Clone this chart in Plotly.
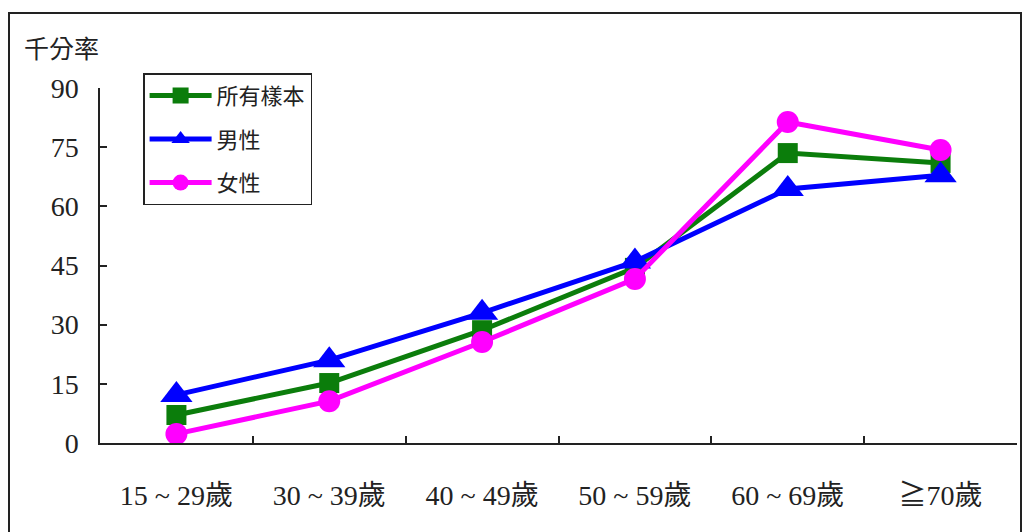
import plotly.graph_objects as go

# Age groups and rates per thousand
age_groups = ["15 ~ 29歲", "30 ~ 39歲", "40 ~ 49歲", "50 ~ 59歲", "60 ~ 69歲", "≧70歲"]
all_samples = [7.1, 15.2, 28.6, 44.4, 73.5, 71.0]
male = [12.2, 21.0, 33.0, 46.0, 64.4, 67.9]
female = [2.3, 10.6, 25.6, 41.6, 81.4, 74.3]
y_ticks = [0, 15, 30, 45, 60, 75, 90]

SERIF = "'Liberation Serif', 'Times New Roman', 'Noto Sans CJK TC', serif"
CJK = "'Noto Sans CJK TC', sans-serif"

series = [
    ("所有樣本", all_samples, "#0b7d0b", "square", 20),
    ("男性", male, "#0000ff", "triangle-up", 28),
    ("女性", female, "#ff00ff", "circle", 22),
]

fig = go.Figure()
for i, (name, vals, color, sym, size) in enumerate(series):
    fig.add_trace(go.Scatter(
        x=age_groups, y=vals, name=name, mode="lines+markers",
        line=dict(color=color, width=5),
        marker=dict(symbol=sym, size=size, color=color),
        legendgroup=f"g{i}",
    ))

W, H = 1022, 532
L, R, T, B = 100, 5, 88, 89

fig.update_layout(
    width=W, height=H,
    margin=dict(l=L, r=R, t=T, b=B, pad=0),
    paper_bgcolor="white", plot_bgcolor="white",
    showlegend=True,
    legend=dict(
        x=0.047, y=1.042, xanchor="left", yanchor="top",
        bordercolor="#222222", borderwidth=1.5, bgcolor="white",
        font=dict(family=CJK, size=22, color="#222222"),
        itemwidth=62, tracegroupgap=12, traceorder="grouped",
        itemsizing="trace",
    ),
    xaxis=dict(
        type="category", range=[-0.5, 5.5],
        showline=True, linecolor="#222222", linewidth=1.5,
        ticks="inside", tickson="boundaries", ticklen=7, tickcolor="#222222",
        tickwidth=1.5, showgrid=False, zeroline=False,
        tickfont=dict(family=SERIF, size=28, color="#222222"),
        ticklabelstandoff=27,
    ),
    yaxis=dict(
        range=[0, 90], tickvals=y_ticks,
        showline=True, linecolor="#222222", linewidth=1.5,
        ticks="inside", ticklen=7, tickcolor="#222222", tickwidth=1.5,
        showgrid=False, zeroline=False,
        tickfont=dict(family=SERIF, size=28, color="#222222"),
        ticklabelstandoff=14,
    ),
    font=dict(family=SERIF, color="#222222"),
)

# Outer frame around the whole chart
pw = W - L - R
ph = H - T - B
fig.add_shape(
    type="rect", xref="paper", yref="paper",
    x0=(9 - L) / pw, x1=(1021 - L) / pw,
    y0=(H - B - 560) / ph, y1=(H - B - 13) / ph,
    line=dict(color="#222222", width=2), fillcolor="rgba(0,0,0,0)", layer="below",
)

# Unit label
fig.add_annotation(
    text="千分率", xref="paper", yref="paper",
    x=(22 - L) / pw, y=(H - B - 47) / ph, xanchor="left", yanchor="middle",
    showarrow=False, font=dict(family=CJK, size=25, color="#222222"),
)

fig.write_html("out.html")
